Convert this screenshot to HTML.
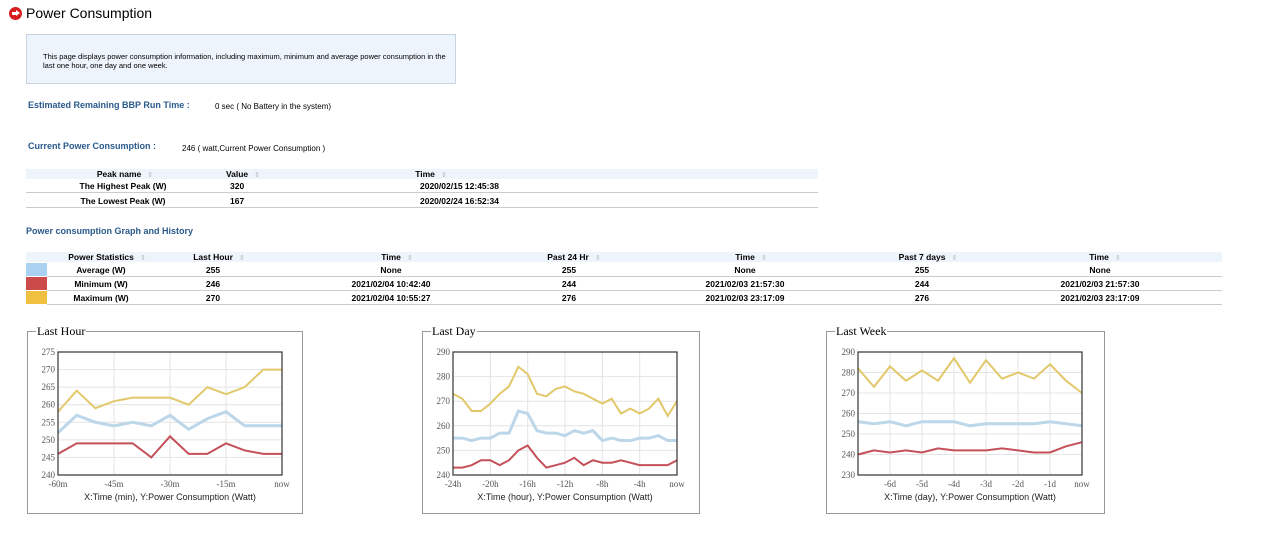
<!DOCTYPE html>
<html><head><meta charset="utf-8"><style>
body{margin:0;width:1280px;height:558px;position:relative;background:#fff;font-family:"Liberation Sans",Arial,sans-serif;overflow:hidden}
.a{position:absolute;white-space:nowrap}
.b{font-weight:bold;font-size:8.5px;color:#000}
.c{transform:translateX(-50%)}
.lbl{color:#2a5a8c;font-weight:bold;font-size:9px}
.s{color:#bbb;font-size:7px;font-weight:normal;margin-left:6px}
.hl{position:absolute;height:1px;background:#ccc}
fieldset{position:absolute;border:1px solid #999;margin:0;padding:0;box-sizing:border-box}
legend{font-family:"Liberation Serif",serif;font-size:12px;padding:0 1px;margin-left:8px}
</style></head><body>
<div class="a" style="left:9px;top:7px;width:13px;height:13px;border-radius:50%;background:#d62020"><div style="position:absolute;left:3px;top:5px;width:5px;height:3px;background:#fff"></div><div style="position:absolute;left:7px;top:3px;border-left:4px solid #fff;border-top:3.5px solid transparent;border-bottom:3.5px solid transparent"></div></div>
<div class="a" style="left:26px;top:5px;font-size:14px">Power Consumption</div>
<div class="a" style="left:26px;top:34px;width:430px;height:50px;background:#eef4fb;border:1px solid #c6d4e2;box-sizing:border-box;font-size:7.5px;padding:17px 0 0 16px;white-space:normal;line-height:9px">This page displays power consumption information, including maximum, minimum and average power consumption in the last one hour, one day and one week.</div>
<div class="a lbl" style="left:28px;top:100px">Estimated Remaining BBP Run Time :</div>
<div class="a" style="left:215px;top:102px;font-size:8px">0 sec ( No Battery in the system)</div>
<div class="a lbl" style="left:28px;top:141px">Current Power Consumption :</div>
<div class="a" style="left:182px;top:144px;font-size:8px">246 ( watt,Current Power Consumption )</div>

<div>
<div class="a" style="left:26px;top:169px;width:792px;height:10px;background:#eef4fb"></div>
<div class="a b c" style="left:125px;top:169px">Peak name<span class="s">⇕</span></div>
<div class="a b c" style="left:243px;top:169px">Value<span class="s">⇕</span></div>
<div class="a b c" style="left:431px;top:169px">Time<span class="s">⇕</span></div>
<div class="a b c" style="left:123px;top:181px">The Highest Peak (W)</div>
<div class="a b" style="left:230px;top:181px">320</div>
<div class="a b" style="left:420px;top:181px">2020/02/15 12:45:38</div>
<div class="hl" style="left:26px;top:192px;width:792px"></div>
<div class="a b c" style="left:123px;top:196px">The Lowest Peak (W)</div>
<div class="a b" style="left:230px;top:196px">167</div>
<div class="a b" style="left:420px;top:196px">2020/02/24 16:52:34</div>
<div class="hl" style="left:26px;top:207px;width:792px"></div>
</div>

<div class="a lbl" style="left:26px;top:226px">Power consumption Graph and History</div>

<div>
<div class="a" style="left:26px;top:252px;width:1196px;height:10px;background:#eef4fb"></div>
<div class="a b c" style="left:107px;top:252px">Power Statistics<span class="s">⇕</span></div>
<div class="a b c" style="left:219px;top:252px">Last Hour<span class="s">⇕</span></div>
<div class="a b c" style="left:397px;top:252px">Time<span class="s">⇕</span></div>
<div class="a b c" style="left:574px;top:252px">Past 24 Hr<span class="s">⇕</span></div>
<div class="a b c" style="left:751px;top:252px">Time<span class="s">⇕</span></div>
<div class="a b c" style="left:928px;top:252px">Past 7 days<span class="s">⇕</span></div>
<div class="a b c" style="left:1105px;top:252px">Time<span class="s">⇕</span></div>
<div id="rows"></div>
</div>

<fieldset style="left:27px;top:324px;width:276px;height:190px"><legend>Last Hour</legend></fieldset>
<fieldset style="left:422px;top:324px;width:278px;height:190px"><legend>Last Day</legend></fieldset>
<fieldset style="left:826px;top:324px;width:279px;height:190px"><legend>Last Week</legend></fieldset>
<svg id="sv" width="1280" height="558" style="position:absolute;left:0;top:0"></svg>
<script>
// table data
const statNames=["Average (W)","Minimum (W)","Maximum (W)"];
const statColors=["#a9d2f2","#cc4a4a","#f0c040"];
const statLastHour=["255","246","270"];
const statTime1=["None","2021/02/04 10:42:40","2021/02/04 10:55:27"];
const statPast24=["255","244","276"];
const statTime2=["None","2021/02/03 21:57:30","2021/02/03 23:17:09"];
const statPast7=["255","244","276"];
const statTime3=["None","2021/02/03 21:57:30","2021/02/03 23:17:09"];
// chart data
const hourX=[-60,-55,-50,-45,-40,-35,-30,-25,-20,-15,-10,-5,0];
const hourMax=[258,264,259,261,262,262,262,260,265,263,265,270,270];
const hourAvg=[252,257,255,254,255,254,257,253,256,258,254,254,254];
const hourMin=[246,249,249,249,249,245,251,246,246,249,247,246,246];
const hourTicksX=[-60,-45,-30,-15,0];
const hourTickLabels=["-60m","-45m","-30m","-15m","now"];
const hourTicksY=[240,245,250,255,260,265,270,275];
const dayX=[-24,-23,-22,-21,-20,-19,-18,-17,-16,-15,-14,-13,-12,-11,-10,-9,-8,-7,-6,-5,-4,-3,-2,-1,0];
const dayMax=[273,271,266,266,269,273,276,284,281,273,272,275,276,274,273,271,269,271,265,267,265,267,271,264,270];
const dayAvg=[255,255,254,255,255,257,257,266,265,258,257,257,256,258,257,258,254,255,254,254,255,255,256,254,254];
const dayMin=[243,243,244,246,246,244,246,250,252,247,243,244,245,247,244,246,245,245,246,245,244,244,244,244,246];
const dayTicksX=[-24,-20,-16,-12,-8,-4,0];
const dayTickLabels=["-24h","-20h","-16h","-12h","-8h","-4h","now"];
const dayTicksY=[240,250,260,270,280,290];
const weekX=[-7,-6.5,-6,-5.5,-5,-4.5,-4,-3.5,-3,-2.5,-2,-1.5,-1,-0.5,0];
const weekMax=[282,273,283,276,281,276,287,275,286,277,280,277,284,276,270];
const weekAvg=[256,255,256,254,256,256,256,254,255,255,255,255,256,255,254];
const weekMin=[240,242,241,242,241,243,242,242,242,243,242,241,241,244,246];
const weekTicksX=[-6,-5,-4,-3,-2,-1,0];
const weekTickLabels=["-6d","-5d","-4d","-3d","-2d","-1d","now"];
const weekTicksY=[230,240,250,260,270,280,290];

const rows=document.getElementById('rows');
const colX=[101,213,391,569,745,922,1100];
for(let i=0;i<3;i++){
  const top=265+i*14;
  const sw=document.createElement('div');
  
  
  sw.className='a';sw.style.cssText=`left:26px;top:${top-2}px;width:21px;height:13px;background:${statColors[i]}`;
  rows.appendChild(sw);
  const vals=[statNames[i],statLastHour[i],statTime1[i],statPast24[i],statTime2[i],statPast7[i],statTime3[i]];
  vals.forEach((v,j)=>{const d=document.createElement('div');
    
    
    d.className='a b c';d.style.left=colX[j]+'px';d.style.top=top+'px';d.textContent=v;rows.appendChild(d);});
  const l=document.createElement('div');l.className='hl';l.style.cssText=`left:47px;top:${top+11}px;width:1175px`;rows.appendChild(l);
}
const NS='http://www.w3.org/2000/svg',sv=document.getElementById('sv');
function el(t,a,p){const e=document.createElementNS(NS,t);for(const k in a)e.setAttribute(k,a[k]);(p||sv).appendChild(e);return e;}
function chart(name,box,xd,yd,xs,series,tx,tl,ty,cap){
  const g=el('g',{});
  
  
  const X=v=>box.x+(v-xd[0])/(xd[1]-xd[0])*box.w, Y=v=>box.y+box.h-(v-yd[0])/(yd[1]-yd[0])*box.h;
  ty.forEach(v=>{el('line',{x1:box.x,x2:box.x+box.w,y1:Y(v),y2:Y(v),stroke:'#e4e4e4'},g);
    const t=el('text',{x:box.x-3,y:Y(v)+3,'text-anchor':'end','font-size':9,fill:'#555','font-family':'Liberation Serif'},g);t.textContent=v;});
  tx.forEach((v,i)=>{el('line',{x1:X(v),x2:X(v),y1:box.y,y2:box.y+box.h,stroke:'#e4e4e4'},g);
    const t=el('text',{x:X(v),y:box.y+box.h+12,'text-anchor':'middle','font-size':9,fill:'#555','font-family':'Liberation Serif'},g);t.textContent=tl[i];});
  const cols=['#e2c86a','#bcd6ea','#c4505a'];
  series.forEach((s,k)=>{const p=el('polyline',{points:s.map((v,i)=>X(xs[i])+','+Y(v)).join(' '),fill:'none',stroke:cols[k],'stroke-width':k==1?3:2},g);
    
    });
  el('rect',{x:box.x,y:box.y,width:box.w,height:box.h,fill:'none',stroke:'#333','stroke-width':1.2},g);
  const c=el('text',{x:box.x+box.w/2,y:box.y+box.h+25,'text-anchor':'middle','font-size':9,fill:'#222','font-family':'Liberation Sans'},g);c.textContent=cap;
}
chart('last-hour-chart',{x:58,y:352,w:224,h:123},[-60,0],[240,275],hourX,[hourMax,hourAvg,hourMin],hourTicksX,hourTickLabels,hourTicksY,'X:Time (min), Y:Power Consumption (Watt)');
chart('last-day-chart',{x:453,y:352,w:224,h:123},[-24,0],[240,290],dayX,[dayMax,dayAvg,dayMin],dayTicksX,dayTickLabels,dayTicksY,'X:Time (hour), Y:Power Consumption (Watt)');
chart('last-week-chart',{x:858,y:352,w:224,h:123},[-7,0],[230,290],weekX,[weekMax,weekAvg,weekMin],weekTicksX,weekTickLabels,weekTicksY,'X:Time (day), Y:Power Consumption (Watt)');
</script>
</body></html>
